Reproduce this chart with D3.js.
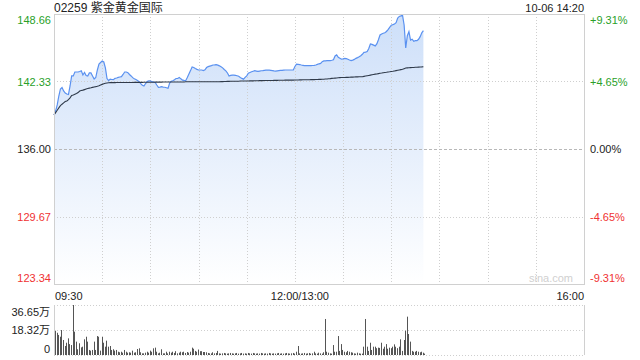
<!DOCTYPE html>
<html lang="zh">
<head>
<meta charset="utf-8">
<style>
  body { margin: 0; background: #fff; }
  svg text { font-family: "Liberation Sans", Arial, "Noto Sans CJK SC", sans-serif; font-size: 11px; }
  .grid { stroke: #cfcfcf; stroke-width: 1; stroke-dasharray: 1,2; shape-rendering: crispEdges; }
  .frame { stroke: #d0d0d0; stroke-width: 1; fill: none; shape-rendering: crispEdges; }
</style>
<script src="https://cdn.jsdelivr.net/npm/d3@7"></script>
</head>
<body>
<svg width="640" height="360"></svg>
<script>
// minute index 0 = 09:30, 150 = 12:00/13:00, 330 = 16:00
var title = "02259 紫金黄金国际";
var stamp = "10-06 14:20";
var prevClose = 136.00;

var priceTicks = [123.34, 129.67, 136.00, 142.33, 148.66];
var pctLabels = ["-9.31%", "-4.65%", "0.00%", "+4.65%", "+9.31%"];
var timeTicks = [0, 150, 330];
var timeLabels = ["09:30", "12:00/13:00", "16:00"];
var volTicks = [0, 18.32, 36.65];
var volLabels = ["0", "18.32万", "36.65万"];

var price = [
  139.19,139.56,140.13,140.97,141.63,141.77,141.44,141.25,141.16,141.11,
  141.91,142.85,142.85,143.22,143.22,143.22,143.27,143.34,142.94,143.17,
  142.89,142.85,143.13,143.13,142.85,142.56,142.70,143.41,143.97,144.11,
  144.25,144.16,143.60,142.61,142.42,142.56,142.52,142.50,142.63,142.66,
  142.72,142.75,142.78,142.99,143.22,143.22,143.16,142.99,142.85,142.69,
  142.59,142.51,142.42,142.32,142.14,141.97,141.91,142.14,142.32,142.38,
  142.38,142.31,142.28,142.24,142.00,141.79,141.81,141.84,141.81,141.79,
  141.74,141.69,142.19,142.35,142.40,142.50,142.61,142.61,142.71,142.58,
  142.46,142.43,142.41,142.71,143.03,143.35,143.69,143.64,143.55,143.47,
  143.41,143.41,143.41,143.36,143.43,143.64,143.72,143.77,143.82,143.88,
  143.89,143.91,143.86,143.80,143.72,143.61,143.46,143.33,143.13,142.85,
  142.90,142.93,142.92,142.90,142.87,142.82,142.71,142.62,142.55,142.71,
  142.86,143.10,143.17,143.24,143.29,143.34,143.31,143.28,143.31,143.34,
  143.35,143.37,143.39,143.41,143.39,143.37,143.35,143.32,143.31,143.33,
  143.35,143.37,143.38,143.40,143.41,143.41,143.41,143.41,143.41,143.41,
  143.74,143.95,143.94,143.92,143.88,143.85,143.82,143.81,143.81,143.81,
  143.82,143.83,143.84,143.88,143.94,143.99,144.03,144.19,144.26,144.27,
  144.28,144.28,144.29,144.32,144.37,144.72,144.82,144.60,144.51,144.42,
  144.45,144.50,144.47,144.42,144.35,144.29,144.34,144.40,144.50,144.57,
  144.65,144.75,144.88,145.06,145.08,145.14,145.42,145.85,145.81,145.74,
  145.67,145.86,146.25,146.69,146.79,146.86,146.90,147.02,147.20,147.41,
  147.61,147.66,147.72,147.84,148.27,148.43,148.48,148.55,147.63,145.47,
  146.62,147.00,146.22,146.30,146.10,146.16,146.16,146.29,146.54,146.90,147.09
];

var avgPrice = [
  139.19,139.41,139.63,139.86,140.06,140.20,140.33,140.45,140.51,140.63,
  140.79,141.02,141.06,141.13,141.20,141.29,141.44,141.49,141.52,141.57,
  141.62,141.67,141.71,141.74,141.78,141.82,141.85,141.89,141.94,142.00,
  142.06,142.11,142.16,142.19,142.21,142.22,142.22,142.22,142.22,142.23,
  142.23,142.23,142.23,142.23,142.24,142.24,142.24,142.24,142.24,142.24,
  142.25,142.25,142.25,142.25,142.25,142.25,142.26,142.26,142.26,142.26,
  142.26,142.26,142.26,142.27,142.27,142.27,142.27,142.27,142.28,142.28,
  142.28,142.28,142.28,142.28,142.29,142.29,142.29,142.29,142.29,142.29,
  142.29,142.29,142.30,142.30,142.30,142.30,142.30,142.30,142.30,142.30,
  142.30,142.30,142.30,142.30,142.31,142.31,142.31,142.31,142.31,142.31,
  142.31,142.31,142.31,142.31,142.32,142.32,142.33,142.33,142.34,142.34,
  142.35,142.35,142.35,142.36,142.36,142.36,142.37,142.37,142.37,142.38,
  142.38,142.38,142.39,142.39,142.39,142.40,142.40,142.40,142.41,142.41,
  142.41,142.42,142.42,142.42,142.43,142.43,142.43,142.44,142.44,142.44,
  142.45,142.45,142.45,142.45,142.46,142.46,142.46,142.46,142.46,142.46,
  142.47,142.47,142.47,142.48,142.48,142.49,142.49,142.50,142.50,142.50,
  142.51,142.51,142.51,142.52,142.52,142.53,142.53,142.54,142.54,142.56,
  142.57,142.59,142.60,142.62,142.63,142.65,142.66,142.68,142.69,142.70,
  142.70,142.71,142.72,142.72,142.73,142.74,142.74,142.75,142.76,142.76,
  142.77,142.77,142.78,142.81,142.84,142.87,142.90,142.93,142.96,142.99,
  143.02,143.04,143.07,143.10,143.12,143.15,143.17,143.19,143.22,143.24,
  143.27,143.29,143.32,143.35,143.38,143.41,143.44,143.47,143.53,143.59,
  143.61,143.62,143.63,143.64,143.65,143.66,143.67,143.68,143.69,143.70,143.72
];

// volume in 万 shares per minute
var volume = [
  17.8,16.3,14.7,13.4,18.3,11.0,6.6,9.0,12.2,8.0,
  7.3,36.65,17.1,9.8,4.2,8.6,5.6,6.1,11.5,13.4,
  9.8,3.7,3.2,3.7,9.8,3.7,13.9,13.4,3.2,13.4,
  9.0,6.1,10.5,6.1,6.6,3.7,4.2,3.2,3.7,2.4,
  2.0,2.4,1.7,3.7,2.4,1.7,2.0,1.7,3.2,1.7,
  2.0,4.4,4.9,2.0,1.2,1.2,1.7,2.4,1.7,3.2,
  2.4,4.9,5.4,2.4,1.2,1.7,4.2,1.2,1.2,2.4,
  1.2,2.4,1.7,2.4,1.5,2.8,1.2,1.7,2.4,2.0,
  2.4,1.5,2.2,1.7,2.4,5.4,4.6,3.0,2.4,4.0,
  2.8,2.8,2.2,2.2,2.0,1.5,1.2,1.2,2.0,1.2,
  1.5,3.0,1.2,1.0,1.2,1.5,1.2,1.0,1.2,1.5,
  1.2,1.0,1.2,1.5,1.0,1.2,1.5,1.0,1.2,1.0,
  1.5,1.2,1.0,1.5,1.2,1.0,1.2,1.0,1.5,1.2,
  1.0,1.2,1.0,1.5,1.2,1.0,1.2,1.0,1.2,1.5,
  1.0,1.2,1.0,1.2,1.5,1.2,1.0,1.2,1.5,1.0,
  2.4,6.6,1.2,1.0,1.2,1.5,1.0,1.2,1.5,1.0,
  1.2,2.4,1.2,1.0,1.7,1.2,1.0,2.0,26.4,2.4,
  1.7,1.2,1.0,7.3,2.4,2.4,13.9,3.0,8.0,3.7,
  2.4,2.0,3.0,2.4,2.0,1.7,1.2,1.0,1.7,1.2,
  1.0,1.0,6.1,26.4,6.1,3.0,9.0,3.7,6.1,6.1,
  5.0,5.4,5.2,9.0,4.6,6.1,8.0,4.6,5.4,5.0,
  6.1,7.8,6.1,5.0,6.1,11.5,3.0,11.0,17.8,28.1,
  15.4,9.8,3.0,2.4,2.4,3.0,2.4,2.0,2.4,1.7,1.0
];

var svg = d3.select("svg");
var pLeft = 54, pRight = 584, pTop = 14, pBottom = 284;
var vTop = 305, vBottom = 355;

var x = d3.scaleLinear().domain([0, 330]).range([pLeft, pRight]);
var y = d3.scaleLinear().domain([priceTicks[0], priceTicks[4]]).range([pBottom, pTop]);
var yv = d3.scaleLinear().domain([0, volTicks[2]]).range([vBottom, vTop]);

var green = "#2a9f2a", red = "#f03232", dark = "#222";
function tickColor(v) { return v > prevClose ? green : (v < prevClose ? red : dark); }

var defs = svg.append("defs");
var grad = defs.append("linearGradient").attr("id", "fillGrad")
    .attr("gradientUnits", "userSpaceOnUse")
    .attr("x1", 0).attr("y1", pTop).attr("x2", 0).attr("y2", pBottom);
grad.append("stop").attr("offset", "0%").attr("stop-color", "#cddff9");
grad.append("stop").attr("offset", "100%").attr("stop-color", "#ffffff");

// area first so the gridlines sit on top of it
var area = d3.area()
    .x(function(d, i) { return x(i); })
    .y0(pBottom)
    .y1(function(d) { return y(d); });
svg.append("path").datum(price).attr("d", area).attr("fill", "url(#fillGrad)");

// vertical gridlines every 30 minutes
svg.append("g").selectAll("line")
    .data(d3.range(30, 330, 30))
    .enter().append("line")
    .attr("class", "grid")
    .attr("x1", function(d) { return Math.round(x(d)) + 0.5; })
    .attr("x2", function(d) { return Math.round(x(d)) + 0.5; })
    .attr("y1", pTop).attr("y2", pBottom);

// horizontal gridlines
svg.append("g").selectAll("line")
    .data(priceTicks.slice(1, 4))
    .enter().append("line")
    .attr("class", "grid")
    .attr("x1", pLeft).attr("x2", pRight)
    .attr("y1", function(d) { return Math.round(y(d)) + 0.5; })
    .attr("y2", function(d) { return Math.round(y(d)) + 0.5; })
    .style("stroke", function(d) { return d == prevClose ? "#b8b8b8" : null; })
    .style("stroke-dasharray", function(d) { return d == prevClose ? "3,2" : null; });

var line = d3.line()
    .x(function(d, i) { return x(i); })
    .y(function(d) { return y(d); });
svg.append("path").datum(price).attr("d", line)
    .attr("fill", "none").attr("stroke", "#5a91f0").attr("stroke-width", 1.2);
svg.append("path").datum(avgPrice).attr("d", line)
    .attr("fill", "none").attr("stroke", "#2f3a4a").attr("stroke-width", 1.1);

// frame
svg.append("rect").attr("class", "frame")
    .attr("x", pLeft + 0.5).attr("y", pTop + 0.5)
    .attr("width", pRight - pLeft).attr("height", pBottom - pTop);

// watermark
svg.append("text").attr("x", pRight - 11).attr("y", pBottom - 2)
    .attr("text-anchor", "end").attr("fill", "#d0d0d0").text("sina.com");

// price labels
svg.append("g").selectAll("text")
    .data(priceTicks)
    .enter().append("text")
    .attr("x", pLeft - 3)
    .attr("y", function(d, i) { return y(d) + (i == 0 ? -2 : (i == 4 ? 10 : 4)); })
    .attr("text-anchor", "end")
    .attr("fill", tickColor)
    .text(function(d) { return d.toFixed(2); });

svg.append("g").selectAll("text")
    .data(pctLabels)
    .enter().append("text")
    .attr("x", pRight + 6)
    .attr("y", function(d, i) { return y(priceTicks[i]) + (i == 0 ? -2 : (i == 4 ? 10 : 4)); })
    .attr("fill", function(d, i) { return tickColor(priceTicks[i]); })
    .text(function(d) { return d; });

// time labels
svg.append("g").selectAll("text")
    .data(timeLabels)
    .enter().append("text")
    .attr("x", function(d, i) { return x(timeTicks[i]) + (i == 0 ? 1 : (i == 1 ? 5 : 0)); })
    .attr("y", pBottom + 16)
    .attr("text-anchor", function(d, i) { return ["start", "middle", "end"][i]; })
    .attr("fill", dark)
    .text(function(d) { return d; });

// title + time stamp
svg.append("text").attr("x", pLeft).attr("y", 12)
    .attr("fill", dark).style("font-size", "12px")
    .style("font-family", "'Liberation Sans', 'Noto Sans CJK SC', sans-serif")
    .text(title);
svg.append("text").attr("x", pRight).attr("y", 12)
    .attr("text-anchor", "end").attr("fill", dark).text(stamp);

// volume panel
svg.append("g").selectAll("line")
    .data(volTicks)
    .enter().append("line")
    .attr("class", "grid")
    .attr("x1", pLeft).attr("x2", pRight)
    .attr("y1", function(d) { return Math.round(yv(d)) + 0.5; })
    .attr("y2", function(d) { return Math.round(yv(d)) + 0.5; });
svg.append("line").attr("class", "frame")
    .attr("x1", pLeft + 0.5).attr("x2", pLeft + 0.5).attr("y1", vTop).attr("y2", vBottom);
svg.append("line").attr("class", "frame")
    .attr("x1", pRight + 0.5).attr("x2", pRight + 0.5).attr("y1", vTop).attr("y2", vBottom);

svg.append("g").selectAll("rect")
    .data(volume)
    .enter().append("rect")
    .attr("x", function(d, i) { return Math.round(x(i)) + 1; })
    .attr("width", 1)
    .attr("y", function(d) { return yv(d); })
    .attr("height", function(d) { return vBottom - yv(d); })
    .attr("fill", "#555");

svg.append("g").selectAll("text")
    .data(volLabels)
    .enter().append("text")
    .attr("x", pLeft - 4)
    .attr("y", function(d, i) { return yv(volTicks[i]) + [-2, 4, 11][i]; })
    .attr("text-anchor", "end")
    .attr("fill", dark)
    .text(function(d) { return d; });
</script>
</body>
</html>
